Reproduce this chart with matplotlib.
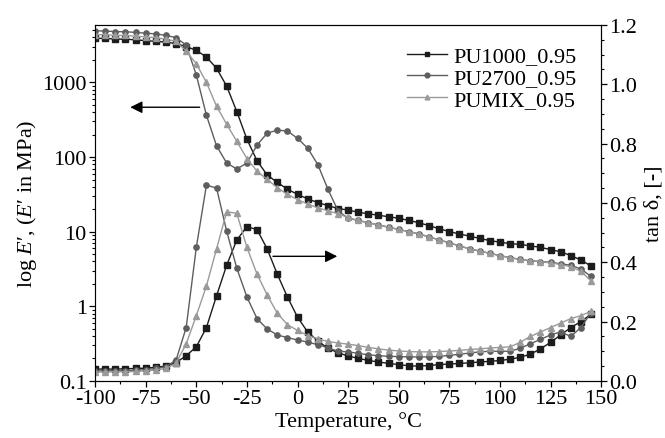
import numpy as np
import matplotlib
matplotlib.use("Agg")
import matplotlib.pyplot as plt

plt.rcParams['font.family'] = ['Liberation Serif', 'DejaVu Serif']
plt.rcParams['mathtext.fontset'] = 'custom'
plt.rcParams['mathtext.rm'] = 'Liberation Serif'
plt.rcParams['mathtext.it'] = 'Liberation Serif:italic'
plt.rcParams['axes.unicode_minus'] = False

# temperature grid of the readings, degC
temp = list(range(-100, 150, 5))

# log10 of storage modulus E' (MPa)
logE_pu1000 = [3.59, 3.59, 3.58, 3.58, 3.57, 3.56, 3.55, 3.54, 3.52, 3.48,
               3.43, 3.34, 3.19, 2.95, 2.61, 2.24, 1.95, 1.76, 1.66, 1.57,
               1.50, 1.44, 1.39, 1.35, 1.31, 1.29, 1.26, 1.24, 1.22, 1.20,
               1.18, 1.15, 1.12, 1.08, 1.04, 1.00, 0.97, 0.94, 0.91, 0.88,
               0.86, 0.84, 0.83, 0.81, 0.79, 0.76, 0.73, 0.68, 0.62, 0.54]
logE_pu2700 = [3.69, 3.69, 3.68, 3.68, 3.67, 3.66, 3.65, 3.63, 3.60, 3.50,
               3.10, 2.56, 2.15, 1.92, 1.84, 1.92, 2.16, 2.32, 2.36, 2.35,
               2.25, 2.12, 1.90, 1.57, 1.28, 1.18, 1.15, 1.12, 1.09, 1.06,
               1.03, 1.00, 0.97, 0.93, 0.89, 0.85, 0.81, 0.77, 0.74, 0.71,
               0.68, 0.65, 0.63, 0.61, 0.60, 0.59, 0.57, 0.55, 0.50, 0.40]
logE_pumix = [3.64, 3.64, 3.63, 3.63, 3.62, 3.61, 3.60, 3.58, 3.55, 3.42,
              3.25, 3.00, 2.68, 2.44, 2.21, 1.98, 1.81, 1.70, 1.59, 1.50,
              1.43, 1.37, 1.32, 1.28, 1.24, 1.19, 1.15, 1.12, 1.09, 1.06,
              1.03, 1.00, 0.97, 0.93, 0.89, 0.85, 0.81, 0.77, 0.74, 0.71,
              0.68, 0.65, 0.63, 0.61, 0.60, 0.58, 0.56, 0.53, 0.47, 0.34]

# loss factor tan delta
tan_pu1000 = [0.040, 0.040, 0.040, 0.041, 0.042, 0.043, 0.046, 0.050, 0.062, 0.085,
              0.115, 0.180, 0.287, 0.390, 0.475, 0.520, 0.510, 0.445, 0.360, 0.283,
              0.215, 0.165, 0.135, 0.110, 0.095, 0.084, 0.076, 0.069, 0.064, 0.059,
              0.055, 0.051, 0.050, 0.052, 0.055, 0.057, 0.059, 0.061, 0.064, 0.066,
              0.069, 0.073, 0.080, 0.090, 0.108, 0.130, 0.155, 0.180, 0.200, 0.225]
tan_pu2700 = [0.034, 0.034, 0.035, 0.035, 0.036, 0.038, 0.042, 0.048, 0.070, 0.180,
              0.450, 0.660, 0.650, 0.505, 0.380, 0.283, 0.210, 0.175, 0.155, 0.146,
              0.138, 0.131, 0.122, 0.112, 0.100, 0.098, 0.093, 0.088, 0.085, 0.083,
              0.082, 0.081, 0.081, 0.081, 0.083, 0.086, 0.090, 0.094, 0.098, 0.100,
              0.100, 0.100, 0.110, 0.125, 0.140, 0.155, 0.165, 0.150, 0.180, 0.230]
tan_pumix = [0.030, 0.030, 0.031, 0.031, 0.032, 0.034, 0.037, 0.042, 0.060, 0.125,
             0.220, 0.320, 0.445, 0.570, 0.565, 0.450, 0.360, 0.290, 0.228, 0.190,
             0.170, 0.153, 0.142, 0.133, 0.128, 0.124, 0.119, 0.113, 0.108, 0.104,
             0.101, 0.099, 0.098, 0.098, 0.099, 0.101, 0.103, 0.106, 0.108, 0.111,
             0.113, 0.115, 0.130, 0.150, 0.165, 0.180, 0.195, 0.210, 0.220, 0.235]

labels = ["PU1000_0.95", "PU2700_0.95", "PUMIX_0.95"]
colors = ["#1c1c1c", "#5e5e5e", "#9a9a9a"]
markers = ["s", "o", "^"]

fig = plt.figure(figsize=(6.65, 4.39), dpi=100)
ax = fig.add_axes([0.143, 0.130, 0.761, 0.811])
ax2 = ax.twinx()

logE = [logE_pu1000, logE_pu2700, logE_pumix]
tand = [tan_pu1000, tan_pu2700, tan_pumix]
handles = []
for i in range(3):
    E = 10 ** np.array(logE[i])
    h, = ax.plot(temp, E, color=colors[i], marker=markers[i], markersize=3.8,
                 lw=1.0, label=labels[i])
    ax2.plot(temp, tand[i], color=colors[i], marker=markers[i], markersize=3.8, lw=1.0)
    handles.append(h)

ax.set_yscale('log')
ax.set_xlim(-100, 150)
ax.set_ylim(0.1, 5900)
ax2.set_ylim(0, 1.2)

ax.set_xticks(np.arange(-100, 151, 25))
ax.set_xticks(np.arange(-100, 151, 12.5), minor=True)
ax.set_yticks([0.1, 1, 10, 100, 1000])
ax.set_yticklabels(["0.1", "1", "10", "100", "1000"])
ax2.set_yticks(np.arange(0, 1.21, 0.2))
ax2.set_yticks(np.arange(0, 1.21, 0.05), minor=True)
ax2.set_yticklabels(["0.0", "0.2", "0.4", "0.6", "0.8", "1.0", "1.2"])

for a in (ax, ax2):
    a.tick_params(which='major', direction='out', length=4, width=0.9, labelsize=16, pad=2)
    a.tick_params(which='minor', direction='out', length=2.5, width=0.8)
ax.spines['left'].set_color('#6a6a6a')

ax.set_xlabel("Temperature, °C", fontsize=16, labelpad=2)
ax.set_ylabel("log $E$′, ($E$′ in MPa)", fontsize=16, labelpad=2)
ax2.set_ylabel("tan δ, [-]", fontsize=16, labelpad=5)

# arrows pointing to the corresponding axis
ax.annotate("", xy=(-84, 465), xytext=(-47, 465),
            arrowprops=dict(arrowstyle='-|>', color='black', lw=1.0, mutation_scale=18))
ax2.annotate("", xy=(21, 0.42), xytext=(-13.5, 0.42),
             arrowprops=dict(arrowstyle='-|>', color='black', lw=1.0, mutation_scale=18))

ax2.legend(handles, labels, loc='upper left', bbox_to_anchor=(0.612, 0.893),
           bbox_transform=fig.transFigure, frameon=False, fontsize=16,
           borderpad=0, borderaxespad=0, labelspacing=0.05, handlelength=1.8,
           handletextpad=0.3, markerscale=0.9)

fig.savefig("out.png", dpi=100)
